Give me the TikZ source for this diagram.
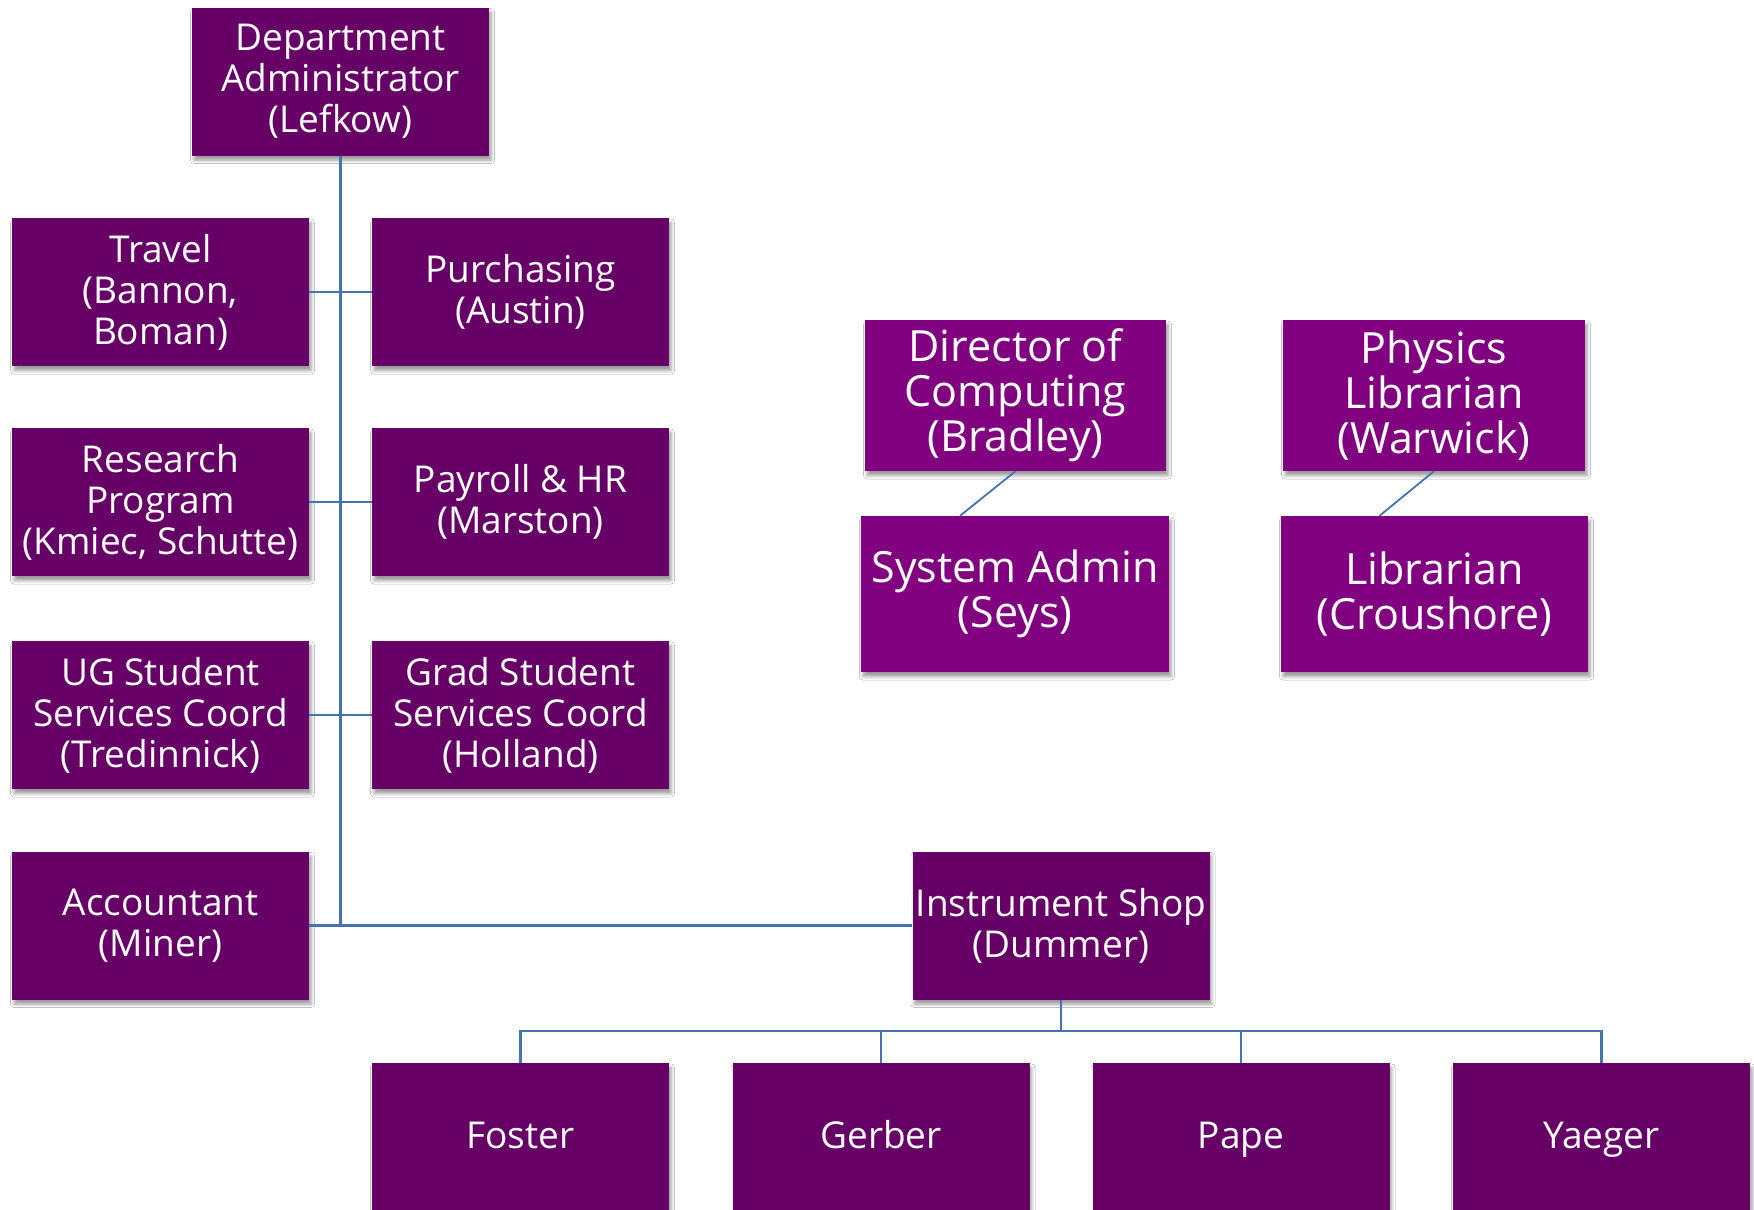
\documentclass[tikz,border=0pt]{standalone}
\usepackage{fontspec}
\setmainfont{Open Sans}
\usetikzlibrary{shadows.blur}
\definecolor{darkpurp}{HTML}{660066}
\definecolor{brightpurp}{HTML}{800080}
\definecolor{linkblue}{HTML}{4672B0}
\tikzset{
  box/.style={rectangle, fill=darkpurp, text=white, align=center, inner sep=0pt,
    minimum width=297pt, minimum height=148pt,
    font=\fontsize{37}{41}\selectfont,
    blur shadow={shadow xshift=2pt, shadow yshift=-4.5pt, shadow blur radius=3.5pt, shadow opacity=40}},
  rbox/.style={box, fill=brightpurp, font=\fontsize{43}{45}\selectfont},
  link/.style={draw=linkblue, line width=2.3pt}
}
\newcommand{\lowtext}[1]{\raisebox{-11.5pt}[0pt][0pt]{#1}}
\begin{document}
\begin{tikzpicture}[x=1pt,y=-1pt]
\useasboundingbox[fill=white] (0,0) rectangle (1754,1210);
% left column tree
\node[box] (dept) at (340.5,81.5) {Department\\Administrator\\(Lefkow)};
\node[box] (travel) at (160.5,292) {Travel\\(Bannon,\\Boman)};
\node[box] (purch) at (520.5,292) {Purchasing\\(Austin)};
\node[box] (research) at (160.5,502) {Research\\Program\\(Kmiec, Schutte)};
\node[box] (payroll) at (520.5,502) {Payroll \& HR\\(Marston)};
\node[box] (ug) at (160.5,715) {UG Student\\Services Coord\\(Tredinnick)};
\node[box] (grad) at (520.5,715) {Grad Student\\Services Coord\\(Holland)};
\node[box] (acct) at (160.5,925.5) {Accountant\\(Miner)};
\node[box] (instr) at (1061,925.5) {Instrument Shop\\(Dummer)};
% shop staff
\node[box] (foster) at (520.5,1137) {\lowtext{Foster}};
\node[box] (gerber) at (881,1137) {\lowtext{Gerber}};
\node[box] (pape) at (1241,1137) {\lowtext{Pape}};
\node[box] (yaeger) at (1601.5,1137) {\lowtext{Yaeger}};
% right groups
\node[rbox, minimum width=301pt, minimum height=151pt] (dir) at (1015.5,395.5) {Director of\\Computing\\(Bradley)};
\node[rbox, minimum width=308pt, minimum height=156pt] (sysadm) at (1015,594) {System Admin\\(Seys)};
\node[rbox, minimum width=302pt, minimum height=151pt] (phys) at (1434,395.5) {Physics\\Librarian\\(Warwick)};
\node[rbox, minimum width=307pt, minimum height=156pt] (lib) at (1434.5,594) {Librarian\\(Croushore)};
% connectors
\coordinate (bus) at (0,1031);
\draw[link] (dept.south) -- (dept.south |- acct.east);
\draw[link] (travel.east) -- (purch.west);
\draw[link] (research.east) -- (payroll.west);
\draw[link] (ug.east) -- (grad.west);
\draw[link] (acct.east) -- (instr.west);
\draw[link] (instr.south) -- (instr.south |- bus);
\draw[link] (foster.north) -- (foster.north |- bus) -- (yaeger.north |- bus) -- (yaeger.north);
\draw[link] (gerber.north) -- (gerber.north |- bus);
\draw[link] (pape.north) -- (pape.north |- bus);
\draw[link, line width=1.8pt] (dir.south) -- ([xshift=-55pt]sysadm.north);
\draw[link, line width=1.8pt] (phys.south) -- ([xshift=-55pt]lib.north);
\end{tikzpicture}
\end{document}
